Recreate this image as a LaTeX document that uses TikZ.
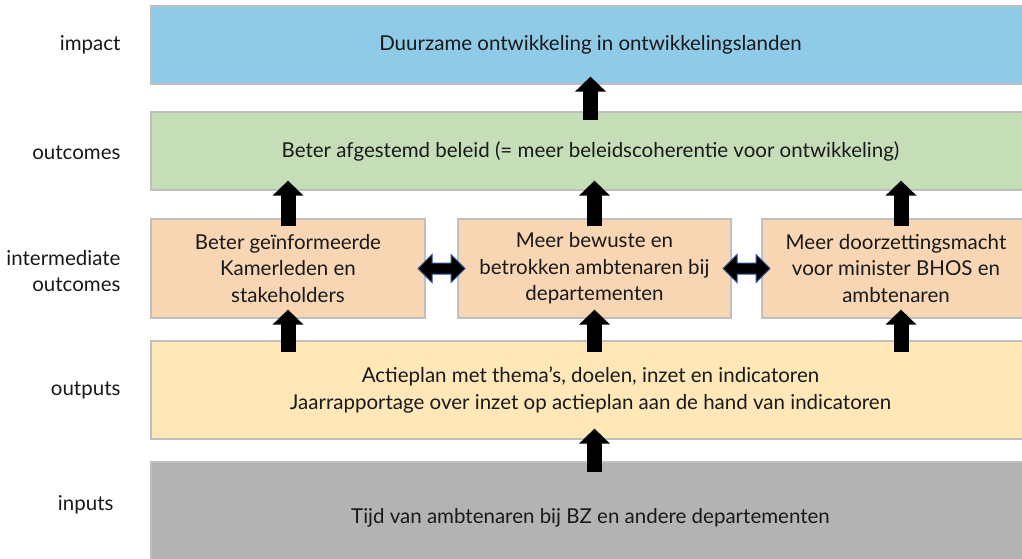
\documentclass[tikz,border=0pt]{standalone}
\usepackage{fontspec}
\setmainfont{Lato}
\usetikzlibrary{arrows.meta, shapes.arrows, calc}

\definecolor{impactblue}{RGB}{143,202,231}
\definecolor{outcomegreen}{RGB}{197,222,184}
\definecolor{interpeach}{RGB}{248,214,180}
\definecolor{outputyellow}{RGB}{255,231,183}
\definecolor{inputgray}{RGB}{179,179,179}
\definecolor{boxline}{RGB}{191,191,191}
\definecolor{dblblue}{RGB}{47,85,151}

\begin{document}
\begin{tikzpicture}[x=1pt, y=-1pt,
    box/.style={draw=boxline, line width=1.2pt, inner sep=0pt, align=center,
        text=black!90, font=\fontsize{20.5}{26.5}\selectfont},
    lbl/.style={anchor=east, align=right, text=black!90, font=\fontsize{20.5}{26}\selectfont},
    up/.style={line width=15pt, -{Triangle[width=30pt, length=15pt]}},
    both/.style={double arrow, draw=dblblue, fill=black, line width=1pt, inner sep=5pt,
        minimum height=47pt, double arrow head extend=8.5pt}]
    \useasboundingbox (0,0) rectangle (1022,558);

    \node[box, fill=impactblue, minimum width=879pt, minimum height=78pt] (impact) at (590.5,45)
        {Duurzame ontwikkeling in ontwikkelingslanden};
    \node[box, fill=outcomegreen, minimum width=879pt, minimum height=78pt] (outcomes) at (590.5,151)
        {Beter afgestemd beleid (= meer beleidscoherentie voor ontwikkeling)};
    \node[box, fill=interpeach, minimum width=274pt, minimum height=99pt] (int1) at (288,268.5)
        {Beter geïnformeerde\\Kamerleden en\\stakeholders};
    \node[box, fill=interpeach, minimum width=273pt, minimum height=99pt] (int2) at (594.5,268.5)
        {Meer bewuste en\\betrokken ambtenaren bij\\departementen};
    \node[box, fill=interpeach, minimum width=268pt, minimum height=99pt] (int3) at (896,268.5)
        {Meer doorzettingsmacht\\voor minister BHOS en\\ambtenaren};
    \node[box, fill=outputyellow, minimum width=879pt, minimum height=98pt] (outputs) at (590.5,390)
        {Actieplan met thema’s, doelen, inzet en indicatoren\\Jaarrapportage over inzet op actieplan aan de hand van indicatoren};
    \node[box, fill=inputgray, minimum width=879pt, minimum height=112pt] (inputs) at (590.5,518)
        {Tijd van ambtenaren bij BZ en andere departementen};

    \node[lbl] (l-impact) at (124,45) {impact};
    \node[lbl] (l-outcomes) at (124,153) {outcomes};
    \node[lbl] (l-inter) at (124,271) {intermediate\\outcomes};
    \node[lbl] (l-outputs) at (124,390) {outputs};
    \node[lbl] (l-inputs) at (117,505) {inputs};

    \draw[up] ([yshift=-9pt]outcomes.north) -- ([yshift=8pt]impact.south);
    \draw[up] ([yshift=-8pt]int1.north) -- ([yshift=10pt]outcomes.south -| int1.north);
    \draw[up] ([yshift=-8pt]int2.north) -- ([yshift=10pt]outcomes.south -| int2.north);
    \draw[up] ([xshift=5pt, yshift=-8pt]int3.north) -- ([xshift=5pt, yshift=10pt]outcomes.south -| int3.north);
    \draw[up] ([yshift=-12pt]outputs.north -| int1.south) -- ([yshift=9pt]int1.south);
    \draw[up] ([yshift=-12pt]outputs.north -| int2.south) -- ([yshift=9pt]int2.south);
    \draw[up] ([xshift=5pt, yshift=-12pt]outputs.north -| int3.south) -- ([xshift=5pt, yshift=9pt]int3.south);
    \draw[up] ([yshift=-11pt]inputs.north -| int2.south) -- ([yshift=11pt]outputs.south -| int2.south);

    \node[both] (dbl1) at ($(int1.east)!0.5!(int2.west)$) {};
    \node[both] (dbl2) at ($(int2.east)!0.5!(int3.west)$) {};
\end{tikzpicture}
\end{document}
